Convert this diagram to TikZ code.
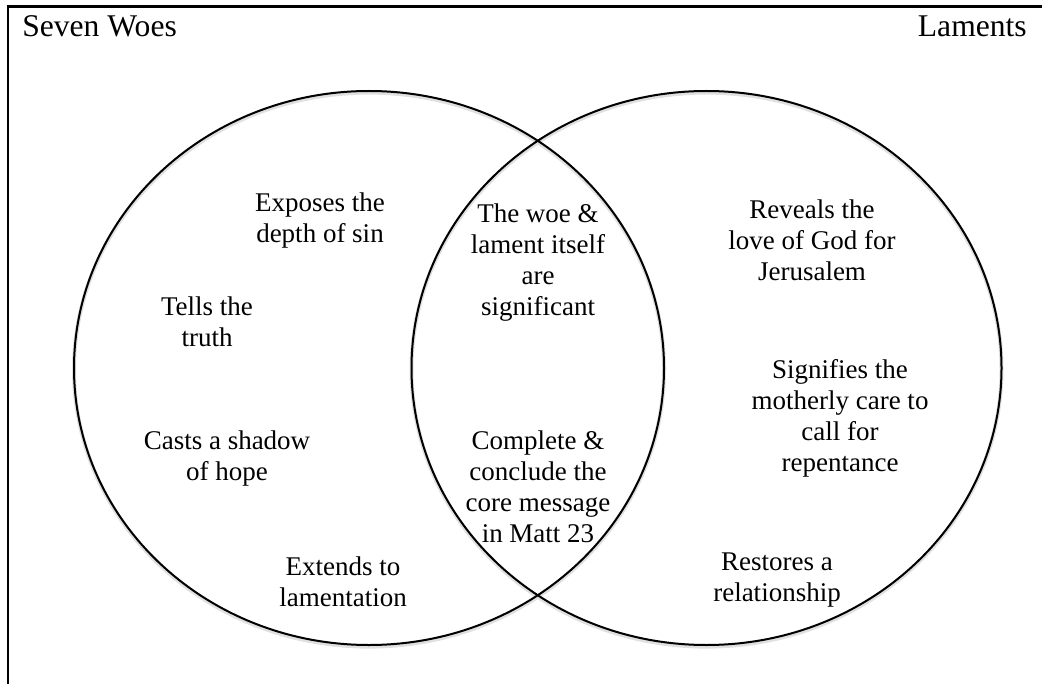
\documentclass[tikz,border=0pt]{standalone}
\usepackage{fontspec}
\setmainfont{Liberation Serif}
\begin{document}
\begin{tikzpicture}[x=0.75pt,y=-0.75pt,
  ring/.style={line width=1.5pt,draw=black},
  ringshadow/.style={line width=3pt,draw=black!12},
  txt/.style={align=center,inner sep=0pt,font=\fontsize{20.25}{23.25}\selectfont},
  ttl/.style={inner sep=0pt,font=\fontsize{23.7}{27}\selectfont}]
\useasboundingbox (0,0) rectangle (1042,684);
% frame
\draw[line width=2pt] (8,684) -- (8,6.5) -- (1042,6.5);
% titles
\node[ttl,anchor=base west] (t1) at (22,37) {Seven Woes};
\node[ttl,anchor=base east] (t2) at (1027,37) {Laments};
% circles
\coordinate (cl) at (369,368);
\coordinate (cr) at (706.5,368);
\draw[ringshadow] ([yshift=-1.2pt]cl) ellipse [x radius=221.25pt, y radius=207.75pt];
\draw[ringshadow] ([yshift=-1.2pt]cr) ellipse [x radius=221.25pt, y radius=207.75pt];
\draw[ring] (cl) ellipse [x radius=221.25pt, y radius=207.75pt];
\draw[ring] (cr) ellipse [x radius=221.25pt, y radius=207.75pt];
% left texts
\node[txt] (a1) at (320,220.5) {Exposes the\\depth of sin};
\node[txt] (a2) at (207,321.5) {Tells the\\truth};
\node[txt] (a3) at (227,458.5) {Casts a shadow\\of hope};
\node[txt] (a4) at (343,581.5) {Extends to\\lamentation};
% middle texts
\node[txt] (m1) at (538,263) {The woe \&\\lament itself\\are\\significant};
\node[txt] (m2) at (538,487) {Complete \&\\conclude the\\core message\\in Matt 23};
% right texts
\node[txt] (b1) at (812,240) {Reveals the\\love of God for\\Jerusalem};
\node[txt] (b2) at (840,418) {Signifies the\\motherly care to\\call for\\repentance};
\node[txt] (b3) at (777,580.5) {Restores a\\relationship};
\end{tikzpicture}
\end{document}
